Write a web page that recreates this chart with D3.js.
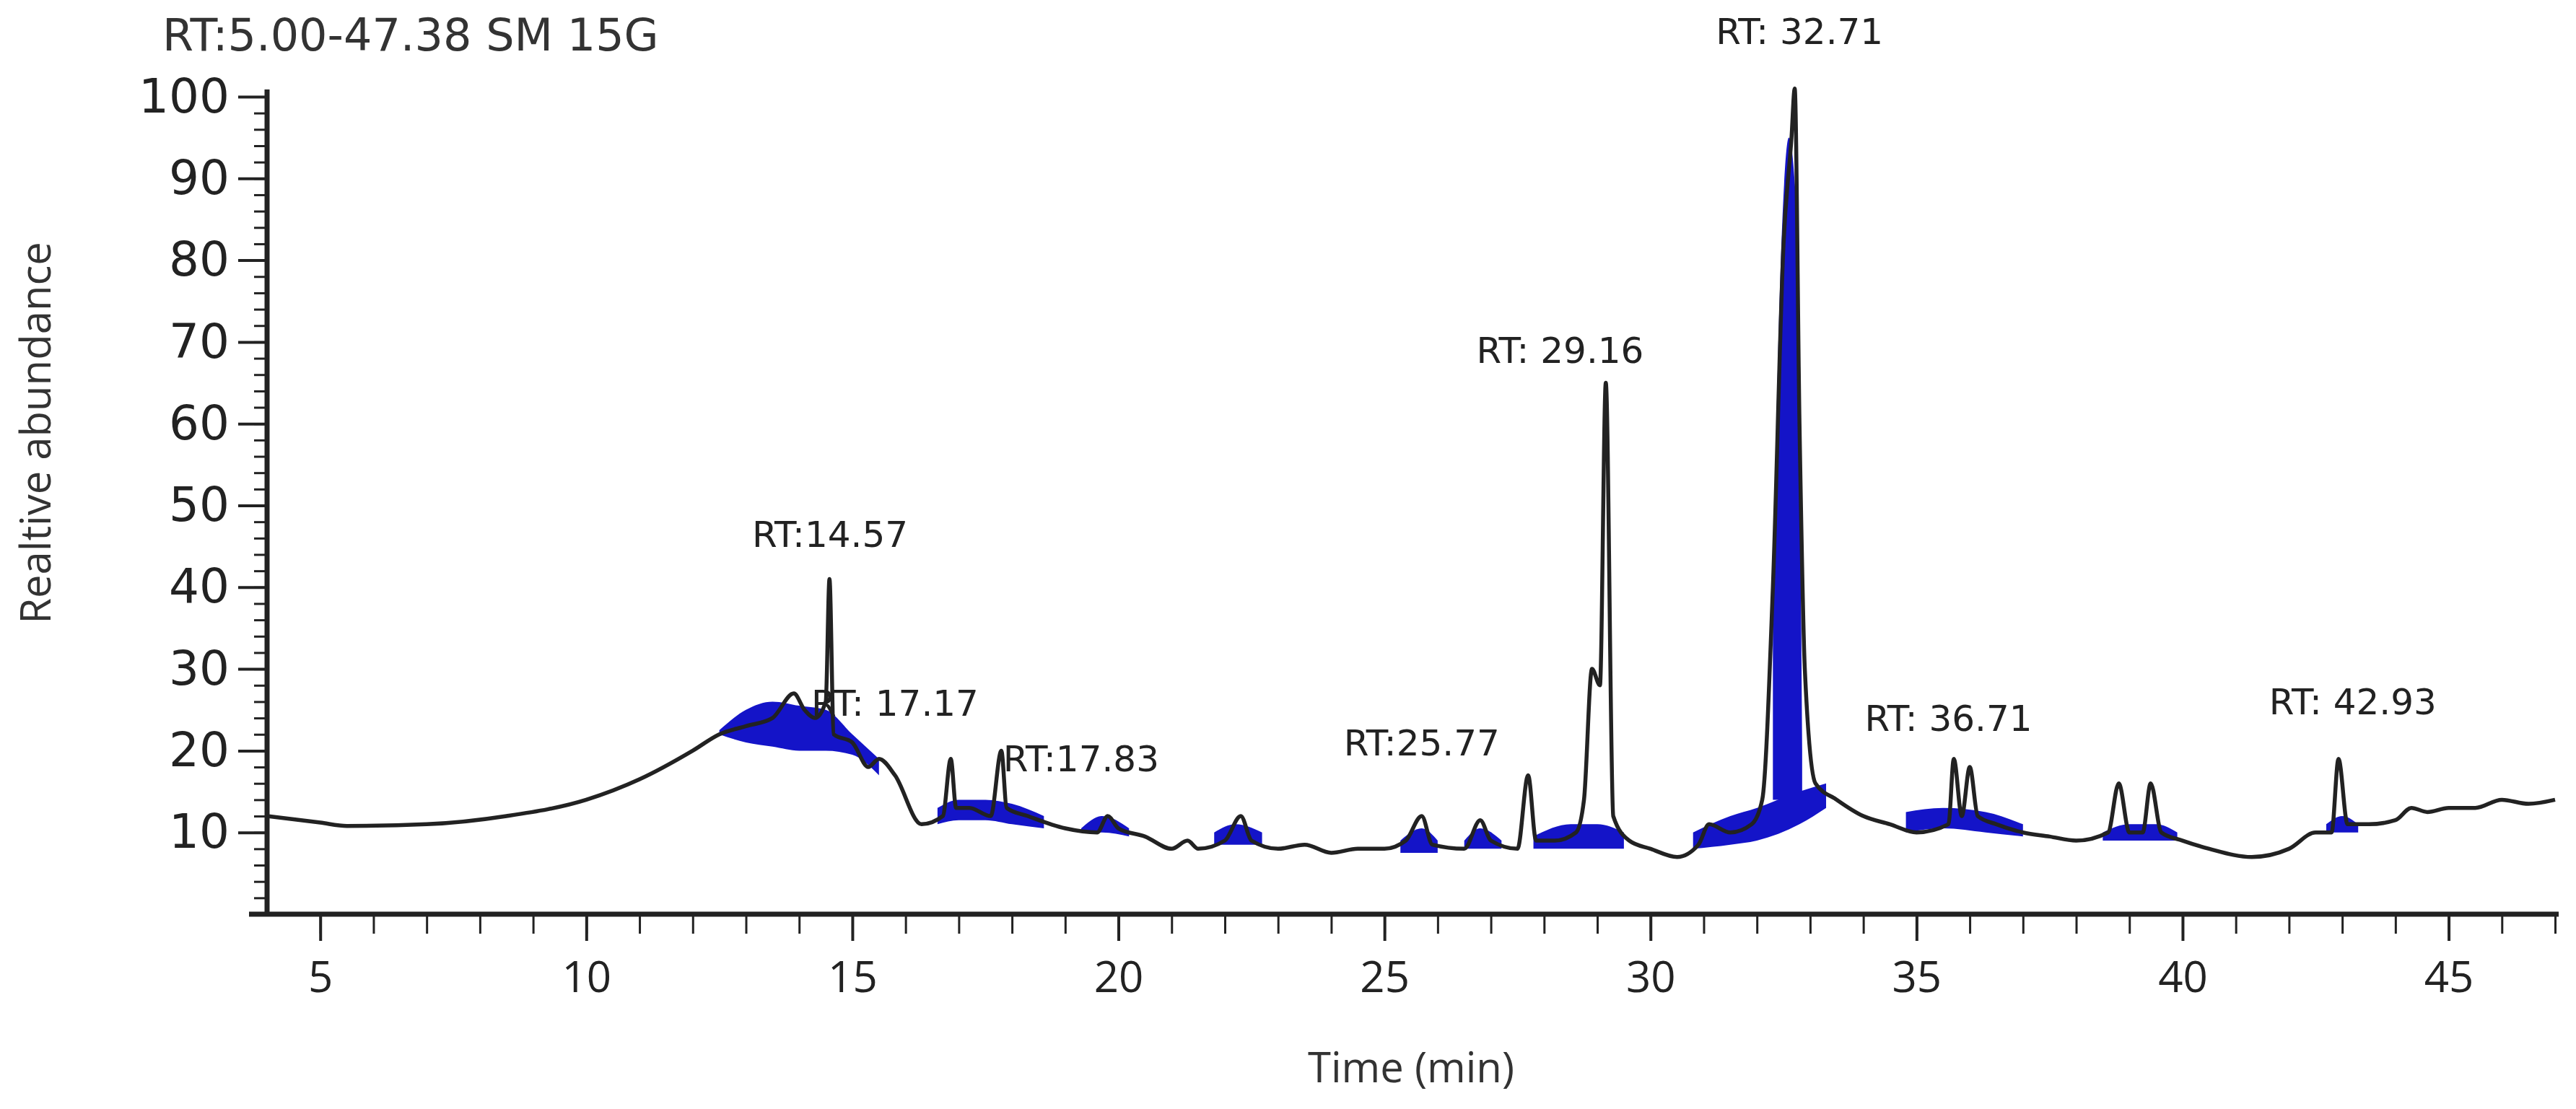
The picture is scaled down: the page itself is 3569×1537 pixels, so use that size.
<!DOCTYPE html>
<html><head><meta charset="utf-8">
<script src="https://cdn.jsdelivr.net/npm/d3@7"></script>
<style>body{margin:0;background:#fff}</style></head>
<body><svg id="c" width="3569" height="1537"></svg>
<script>
const times = [4,5,5.5,7,8.5,10,11,12,12.5,13,13.5,13.9,14.1,14.3,14.5,14.57,14.65,15,15.3,15.5,15.8,16.3,16.7,16.85,16.95,17.2,17.6,17.8,17.9,18.3,19,19.6,19.8,20,20.5,21,21.3,21.5,22,22.3,22.5,23,23.5,24,24.5,25,25.4,25.7,25.9,26.5,26.8,27,27.5,27.7,27.85,28.2,28.6,28.75,28.9,29.05,29.16,29.3,29.6,30,30.5,30.9,31.1,31.5,31.9,32.1,32.3,32.5,32.65,32.71,32.8,32.9,33.1,33.5,34,34.5,35,35.6,35.7,35.85,36,36.15,36.5,37,37.5,38,38.6,38.8,39,39.25,39.4,39.6,40,40.5,41.3,42,42.5,42.8,42.93,43.1,43.5,44,44.3,44.6,45,45.5,46,46.5,47];
const abundance = [12,11.2,10.8,11,12,14,16.5,20,22,23,24,27,25,24,26,41,22,21,18,19,17,11,12,19,13,13,12,20,13,12,10.5,10,12,10.5,9.5,8,9,8,9,12,9,8,8.5,7.5,8,8,9,12,8.5,8,11.5,9,8,17,9,9,10,14,30,28,65,12,9,8,7,8.5,11,10,11,14,40,82,95,101,60,30,16,14,12,11,10,11,19,12,18,12,11,10,9.5,9,10,16,10,10,16,10,9,8,7,8,10,10,19,11,11,11.5,13,12.5,13,13,14,13.5,14];
// blue shaded regions: [times, low values, high values]
const blueT = [[12.5,13,13.5,14,14.5,15,15.5],[16.6,17,17.5,18,18.6],[19.3,19.7,20.2],[21.8,22.2,22.7],[25.3,25.7,26],[26.5,26.8,27.2],[27.8,28.5,29,29.5],[30.8,31.5,32,32.8,33.3],[32.3,32.45,32.6,32.75,32.85],[34.8,35.5,36.3,37],[38.5,39,39.5,39.9],[42.7,43,43.3]];
const blueLow = [[22,21,20.5,20,20,19.5,17],[11,11.5,11.5,11,10.5],[10,10,9.5],[8.5,8.5,8.5],[7.5,7.5,7.5],[8,8,8],[8,8,8,8],[8,8.5,9,11,13],[14,14,14,14,14],[10,10.5,10,9.5],[9,9,9,9],[10,10,10]];
const blueHigh = [[22.5,25,26,25.5,25,22,19],[13,14,14,13.5,12],[10.5,12,10.5],[10,11,10],[9,10.5,9],[9,10.5,9],[9.5,11,11,10],[10,12,13,15,16],[40,80,95,85,20],[12.5,13,12.5,11],[10,11,11,10],[11,12,11]];
const labels = ["RT:14.57","RT: 17.17","RT:17.83","RT:25.77","RT: 29.16","RT: 32.71","RT: 36.71","RT: 42.93"];
const labelT = [14.58,15.8,19.3,25.7,28.3,32.8,35.6,43.2];
const labelV = [46.5,25.8,19,21,69,108,24,26];
const yTicks = [10,20,30,40,50,60,70,80,90,100];
const xTicks = [5,10,15,20,25,30,35,40,45];

const svg = d3.select("#c");
const x = d3.scaleLinear().domain([4,47]).range([370,3540]);
const y = d3.scaleLinear().domain([0,100]).range([1267,134]);
const ink = "#222";

blueT.forEach((ts,i)=>{
  const pts = ts.map((t,j)=>({t,lo:blueLow[i][j],hi:blueHigh[i][j]}));
  svg.append("path").datum(pts)
    .attr("d", d3.area().x(d=>x(d.t)).y0(d=>y(d.lo)).y1(d=>y(d.hi)).curve(d3.curveMonotoneX))
    .attr("fill","#1414c8");
});
svg.append("path").datum(times.map((t,i)=>[t,abundance[i]]))
  .attr("d", d3.line().x(d=>x(d[0])).y(d=>y(d[1])).curve(d3.curveMonotoneX))
  .attr("fill","none").attr("stroke",ink).attr("stroke-width",5.5).attr("stroke-linejoin","round");

const ya = svg.append("g").attr("transform","translate(370,0)")
  .call(d3.axisLeft(y).tickValues(d3.range(0,101,2)).tickSize(18).tickFormat(""));
ya.selectAll("line").attr("stroke",ink).attr("stroke-width",3);
ya.select(".domain").remove();
const ya2 = svg.append("g").attr("transform","translate(370,0)")
  .call(d3.axisLeft(y).tickValues(yTicks).tickSize(40).tickPadding(12));
ya2.selectAll("line").attr("stroke",ink).attr("stroke-width",4);
ya2.select(".domain").remove();
ya2.selectAll("text").attr("font-family","DejaVu Sans").attr("font-size",66).attr("fill","#222");
svg.append("line").attr("x1",370).attr("x2",370).attr("y1",y(100)-10).attr("y2",y(0)+3).attr("stroke",ink).attr("stroke-width",7);

const xa = svg.append("g").attr("transform","translate(0,1267)")
  .call(d3.axisBottom(x).tickValues(d3.range(5,48,1)).tickSize(27).tickFormat(""));
xa.selectAll("line").attr("stroke",ink).attr("stroke-width",3);
xa.select(".domain").remove();
const xa2 = svg.append("g").attr("transform","translate(0,1267)")
  .call(d3.axisBottom(x).tickValues(xTicks).tickSize(37).tickPadding(28));
xa2.selectAll("line").attr("stroke",ink).attr("stroke-width",4);
xa2.select(".domain").remove();
xa2.selectAll("text").attr("font-family","Open Sans").attr("font-size",60).attr("fill","#222");
svg.append("line").attr("x1",345).attr("x2",3545).attr("y1",1267).attr("y2",1267).attr("stroke",ink).attr("stroke-width",7);

svg.append("text").attr("x",225).attr("y",70).attr("font-family","DejaVu Sans").attr("font-size",62).attr("fill","#333").text("RT:5.00-47.38 SM 15G");
svg.append("text").attr("transform","translate(70,600) rotate(-90)").attr("text-anchor","middle")
  .attr("font-family","Open Sans").attr("font-size",58).attr("fill","#333").text("Realtive abundance");
svg.append("text").attr("x",x(25.5)).attr("y",1500).attr("text-anchor","middle")
  .attr("font-family","Open Sans").attr("font-size",58).attr("fill","#333").text("Time (min)");

labels.forEach((l,i)=>{
  svg.append("text").attr("x",x(labelT[i])).attr("y",y(labelV[i])).attr("dy","0.35em")
    .attr("text-anchor","middle").attr("font-family","DejaVu Sans").attr("font-size",50).attr("fill","#222").text(l);
});
</script></body></html>
